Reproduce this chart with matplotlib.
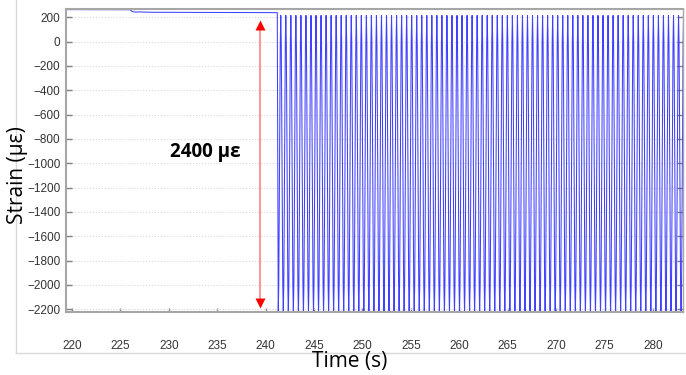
import numpy as np
import matplotlib.pyplot as plt
from matplotlib.lines import Line2D

plt.rcParams['font.family'] = ['Liberation Sans', 'DejaVu Sans']

# hold phase before cycling (time s, strain με)
hold_t = [219.4, 226.0, 226.2, 226.5, 227.0, 227.6, 228.5, 232.0, 236.0, 241.2]
hold_strain = [263, 262, 248, 243, 244, 242, 241, 240, 239, 238]

cycle_start = 241.3
cycle_end = 283.3
cycle_period = 0.52
cycle_shape = [-2230, -1997, -1387, -633, -21, 215, -21, -633, -1387, -1997]

y_ticks = list(range(200, -2201, -200))
x_ticks = list(range(220, 281, 5))

arrow_t = 239.4
arrow_top = 133
arrow_bottom = -2144
arrow_text = '2400 με'

# build the time series
n_cycles = int((cycle_end - cycle_start) / cycle_period) + 1
cyc_vals = np.tile(cycle_shape, n_cycles)
cyc_t = cycle_start + np.arange(len(cyc_vals)) * cycle_period / len(cycle_shape)
t = np.concatenate([hold_t, cyc_t])
strain = np.concatenate([hold_strain, cyc_vals])

fig = plt.figure(figsize=(6.86, 3.75), dpi=100)
ax = fig.add_axes([66 / 686, 1 - 312 / 375, (683 - 66) / 686, (312 - 9) / 375])

ax.plot(t, strain, color='#4040ff', lw=0.75)

ax.set_xlim(219.38, 283.1)
ax.set_ylim(-2222, 268)
ax.set_yticks(y_ticks)
ax.set_xticks(x_ticks)
ax.grid(axis='y', color='#d8d8d8', linestyle=':', linewidth=0.8)

for s in ['left', 'top', 'bottom', 'right']:
    ax.spines[s].set_color('#a6a6a6')
    ax.spines[s].set_linewidth(1.5)
ax.spines['right'].set_linewidth(1.0)

ax.tick_params(axis='y', direction='in', length=4.5, width=1, color='#808080',
               pad=4, labelsize=8.5, labelcolor='#333333', right=True)
ax.tick_params(axis='x', direction='in', length=3, width=1, color='#808080',
               pad=20, labelsize=8.5, labelcolor='#333333')

# red double arrow
ax.plot([arrow_t, arrow_t], [arrow_top, arrow_bottom], color='#ff8f8f', lw=1.3)
ax.plot(arrow_t, arrow_top, marker='^', color='red', ms=6.5, mec='none')
ax.plot(arrow_t, arrow_bottom, marker='v', color='red', ms=6.5, mec='none')
ax.text(233.8, -909, arrow_text, fontsize=13.5, fontweight='bold',
        family=['Open Sans', 'DejaVu Sans'], ha='center', va='center')

# outer frame of the original figure
fig.add_artist(Line2D([16 / 686, 16 / 686], [1 - 353 / 375, 1.0],
                      transform=fig.transFigure, color='#d9d9d9', lw=1))
fig.add_artist(Line2D([16 / 686, 1.0], [1 - 353 / 375, 1 - 353 / 375],
                      transform=fig.transFigure, color='#d9d9d9', lw=1))

fig.text(350 / 686, 1 - 362 / 375, 'Time (s)', fontsize=15,
         family=['Open Sans', 'DejaVu Sans'], ha='center', va='center')
fig.text(18 / 686, 1 - 175 / 375, 'Strain (με)', fontsize=15, rotation=90,
         family=['Open Sans', 'DejaVu Sans'], ha='center', va='center')

fig.savefig('out.png', dpi=100)
